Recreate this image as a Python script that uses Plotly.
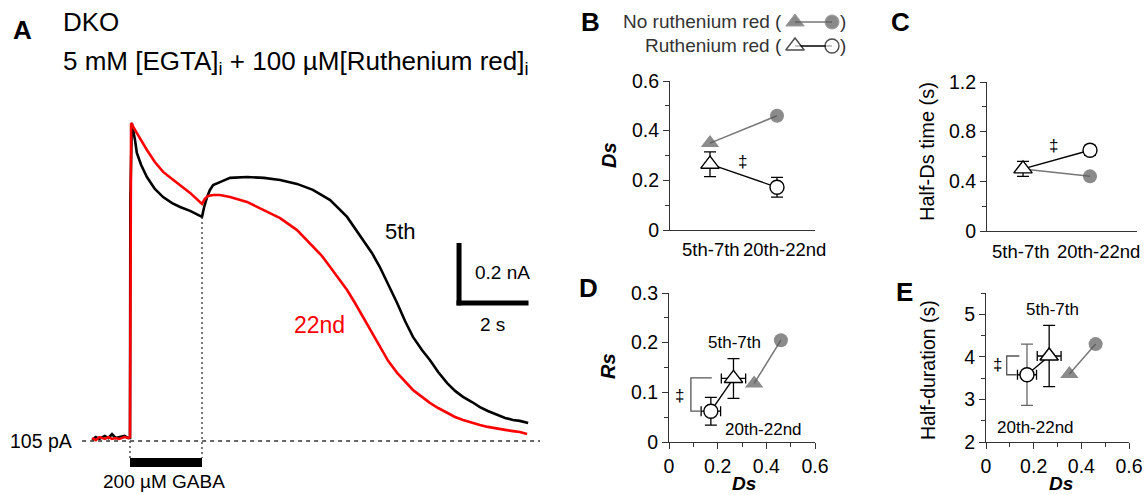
import plotly.graph_objects as go

W, H = 1148, 495
FONT = "Liberation Sans, Arial, Helvetica, sans-serif"
GRAY = "#5a5a5a"
GLINE = "#777777"

# ---------------- Panel A: current traces (time in s from GABA onset, current in nA above 105 pA baseline)
t_5th = [-1.05, -0.95, -0.85, -0.7, -0.6, -0.5, -0.4, -0.3, -0.15, -0.05, 0.0, 0.01, 0.05,
         0.14, 0.19, 0.31, 0.47, 0.69, 0.92, 1.17, 1.39, 1.67, 2.0,
         2.06, 2.14, 2.22, 2.31, 2.58, 2.78, 3.25, 3.72, 4.17, 4.64, 5.08, 5.56, 6.03, 6.47,
         6.72, 6.94, 7.17, 7.42, 7.64, 7.86, 8.11, 8.33, 8.56, 8.81, 9.03, 9.25, 9.5, 9.72,
         9.94, 10.19, 10.42, 10.64, 10.83, 11.06]
i_5th = [0.003, 0.013, 0.007, 0.017, 0.010, 0.023, 0.010, 0.013, 0.017, 0.010, 0.010, 0.80, 1.06,
         1.003, 0.96, 0.92, 0.88, 0.84, 0.813, 0.793, 0.78, 0.767, 0.747,
         0.78, 0.813, 0.837, 0.853, 0.867, 0.877, 0.88, 0.877, 0.87, 0.857, 0.837, 0.803, 0.747, 0.67,
         0.627, 0.58, 0.523, 0.46, 0.40, 0.347, 0.303, 0.27, 0.23, 0.193, 0.167, 0.147, 0.13, 0.113,
         0.10, 0.087, 0.077, 0.07, 0.067, 0.06]

t_22nd = [-1.05, -0.95, -0.85, -0.7, -0.6, -0.5, -0.4, -0.3, -0.15, -0.05, 0.0, 0.01, 0.03,
          0.11, 0.19, 0.33, 0.47, 0.69, 0.92, 1.17, 1.39, 1.67, 2.0,
          2.08, 2.17, 2.31, 2.5, 2.78, 3.25, 3.69, 4.17, 4.64, 5.08, 5.33, 5.56, 5.78, 6.03, 6.25,
          6.47, 6.72, 6.94, 7.17, 7.42, 7.64, 7.86, 8.11, 8.33, 8.56, 8.81, 9.03, 9.25, 9.5, 9.72,
          9.94, 10.19, 10.42, 10.64, 10.83, 11.03]
i_22nd = [0.010, 0.003, 0.013, 0.007, 0.013, 0.007, 0.010, 0.007, 0.013, 0.010, 0.013, 0.80, 1.06,
          1.043, 1.027, 0.997, 0.97, 0.93, 0.897, 0.873, 0.853, 0.827, 0.79,
          0.807, 0.817, 0.82, 0.82, 0.813, 0.797, 0.77, 0.743, 0.703, 0.647, 0.617, 0.58, 0.543, 0.503, 0.46,
          0.413, 0.363, 0.313, 0.267, 0.227, 0.197, 0.17, 0.147, 0.127, 0.11, 0.093, 0.08, 0.07, 0.06, 0.053,
          0.047, 0.043, 0.037, 0.033, 0.03, 0.023]

gaba_on, gaba_off = 0.0, 2.0          # s
scale_t, scale_i = 2.0, 0.2           # s, nA

# ---------------- Panels B-E
categories = ["5th-7th", "20th-22nd"]
ds_noRR = [0.35, 0.46]
ds_RR = [0.265, 0.172]
ds_RR_err = [0.05, 0.04]
halfds_noRR = [0.50, 0.44]
halfds_RR = [0.50, 0.65]
halfds_RR_err = [0.06, 0.04]
rs_noRR = [0.118, 0.205]
rs_RR = [0.128, 0.062]
rs_RR_err = [0.04, 0.028]
halfdur_noRR = [3.60, 4.30]
halfdur_RR = [4.02, 3.58]
halfdur_RR_err = [0.72, 0.72]

def px(x):
    return x / W

def py(y):
    return 1 - y / H

fig = go.Figure()

fig.add_trace(go.Scatter(x=t_5th, y=i_5th, mode="lines", line=dict(color="black", width=2.6),
                         xaxis="x", yaxis="y", hoverinfo="skip"))
fig.add_trace(go.Scatter(x=t_22nd, y=i_22nd, mode="lines", line=dict(color="#ff0000", width=2.6),
                         xaxis="x", yaxis="y", hoverinfo="skip"))

shapes = []
shapes.append(dict(type="line", xref="x", yref="y", x0=-1.33, x1=11.39, y0=0, y1=0,
                   line=dict(color="#333", width=1.3, dash="4px,4px")))
shapes.append(dict(type="line", xref="x", yref="y", x0=gaba_on, x1=gaba_on, y0=0, y1=-0.057,
                   line=dict(color="#333", width=1.3, dash="2px,3px")))
shapes.append(dict(type="line", xref="x", yref="y", x0=gaba_off, x1=gaba_off, y0=i_5th[t_5th.index(2.0)], y1=-0.057,
                   line=dict(color="#333", width=1.3, dash="2px,3px")))
shapes.append(dict(type="rect", xref="x", yref="y", x0=gaba_on, x1=gaba_off, y0=-0.057, y1=-0.087,
                   fillcolor="black", line=dict(width=0)))
sx, sy = 9.07, 0.46
shapes.append(dict(type="line", xref="x", yref="y", x0=sx + 0.07, x1=sx + 0.07, y0=sy - 0.008, y1=sy + scale_i,
                   line=dict(color="black", width=5)))
shapes.append(dict(type="line", xref="x", yref="y", x0=sx, x1=sx + scale_t, y0=sy, y1=sy,
                   line=dict(color="black", width=5)))

ann = []
def A(x, y, text, size=18, color="black", xanchor="center", yanchor="middle", xref="paper", yref="paper",
      bold=False, angle=0):
    ann.append(dict(x=x, y=y, xref=xref, yref=yref, text=("<b>%s</b>" % text) if bold else text,
                    showarrow=False, xanchor=xanchor, yanchor=yanchor, textangle=angle,
                    font=dict(family=FONT, size=size, color=color)))

A(9.53, 0.563, "0.2 nA", 19, xanchor="left", xref="x", yref="y")
A(10.06, 0.39, "2 s", 19, xref="x", yref="y")
A(7.5, 0.70, "5th", 22, xref="x", yref="y")
A(5.25, 0.387, "22nd", 23, color="#ff0000", xref="x", yref="y")
A(-1.55, 0.0, "105 pA", 19.5, xanchor="right", xref="x", yref="y")
A(0.95, -0.135, "200 µM GABA", 19, xref="x", yref="y")

A(px(22), py(30), "A", 26, bold=True)
A(px(61), py(22), "DKO", 26, xanchor="left")
A(px(61), py(62), "5 mM [EGTA]<sub>i</sub> + 100 µM[Ruthenium red]<sub>i</sub>", 26, xanchor="left")
A(px(590), py(22), "B", 26, bold=True)
A(px(900), py(22), "C", 26, bold=True)
A(px(589), py(288), "D", 26, bold=True)
A(px(904), py(292), "E", 26, bold=True)

A(px(784), py(21), "No ruthenium red (", 19, color="#333", xanchor="right")
A(px(784), py(45), "Ruthenium red (", 19, color="#333", xanchor="right")
A(px(838), py(21), ")", 19, color="#333", xanchor="left")
A(px(838), py(45), ")", 19, color="#333", xanchor="left")

A(px(609), py(155), "<i>Ds</i>", 20, bold=True, angle=-90)
A(px(927), py(152), "Half-Ds time (s)", 20, angle=-90)
A(px(608), py(366), "<i>Rs</i>", 20, bold=True, angle=-90)
A(px(928), py(370), "Half-duration (s)", 19.5, angle=-90)
A(px(744), py(483), "<i>Ds</i>", 19, bold=True)
A(px(1061), py(483), "<i>Ds</i>", 19, bold=True)

for cx, lab in zip([711, 784], categories):
    A(px(cx), py(249), lab, 18.5)
for cx, lab in zip([1021, 1098], categories):
    A(px(cx), py(251), lab, 18.5)

A(0.49, 0.274, "‡", 17, xref="x2", yref="y2")
A(0.45, 0.69, "‡", 17, xref="x3", yref="y3")
A(0.045, 0.093, "‡", 17, xref="x4", yref="y4")
A(0.05, 3.81, "‡", 17, xref="x5", yref="y5")
A(0.27, 0.20, "5th-7th", 17, xref="x4", yref="y4")
A(0.39, 0.026, "20th-22nd", 17, xref="x4", yref="y4")
A(0.28, 5.12, "5th-7th", 17, xref="x5", yref="y5")
A(0.206, 2.35, "20th-22nd", 17, xref="x5", yref="y5")

shapes.append(dict(type="path", xref="x4", yref="y4", path="M 0.176 0.129 L 0.09 0.129 L 0.09 0.062 L 0.128 0.062",
                   line=dict(color="#555", width=1.3)))
shapes.append(dict(type="path", xref="x5", yref="y5", path="M 0.14 4.02 L 0.087 4.02 L 0.087 3.58 L 0.129 3.58",
                   line=dict(color="#555", width=1.3)))

cat_x = [0, 1]

def pair(xa, ya, xs, ys_noRR, ys_RR, yerr, xerr=None, yerr_colors=("black", "black")):
    fig.add_trace(go.Scatter(x=xs[0], y=ys_noRR, mode="lines", line=dict(color=GLINE, width=1.5),
                             xaxis=xa, yaxis=ya, hoverinfo="skip"))
    fig.add_trace(go.Scatter(x=xs[0], y=ys_noRR, mode="markers",
                             marker=dict(symbol=["triangle-up", "circle"], size=[16, 14], color=GRAY,
                                         line=dict(width=0)),
                             xaxis=xa, yaxis=ya, hoverinfo="skip"))
    fig.add_trace(go.Scatter(x=xs[1], y=ys_RR, mode="lines", line=dict(color="black", width=1.4),
                             xaxis=xa, yaxis=ya, hoverinfo="skip"))
    syms = ["triangle-up", "circle"]
    sizes = [16, 14]
    for k in range(2):
        kw = {}
        if xerr is not None:
            kw["error_x"] = dict(type="data", array=[xerr[k]], color="black", thickness=1.3, width=5)
        fig.add_trace(go.Scatter(x=[xs[1][k]], y=[ys_RR[k]], mode="markers",
                                 marker=dict(symbol=syms[k], size=sizes[k], color="white",
                                             line=dict(color="black", width=1.4)),
                                 error_y=dict(type="data", array=[yerr[k]], color=yerr_colors[k],
                                              thickness=1.3, width=6),
                                 xaxis=xa, yaxis=ya, hoverinfo="skip", **kw))

pair("x2", "y2", (cat_x, cat_x), ds_noRR, ds_RR, ds_RR_err)
pair("x3", "y3", (cat_x, cat_x), halfds_noRR, halfds_RR, halfds_RR_err)
pair("x4", "y4", (ds_noRR, ds_RR), rs_noRR, rs_RR, rs_RR_err, xerr=ds_RR_err)
pair("x5", "y5", (ds_noRR, ds_RR), halfdur_noRR, halfdur_RR, halfdur_RR_err, xerr=ds_RR_err,
     yerr_colors=("black", "#666666"))

fig.add_trace(go.Scatter(x=[795, 832], y=[22, 22], mode="lines+markers", line=dict(color=GLINE, width=1.5),
                         marker=dict(symbol=["triangle-up", "circle"], size=[16, 14], color=GRAY),
                         xaxis="x6", yaxis="y6", hoverinfo="skip"))
fig.add_trace(go.Scatter(x=[795, 832], y=[46, 46], mode="lines+markers", line=dict(color="black", width=1.4),
                         marker=dict(symbol=["triangle-up", "circle"], size=[16, 14], color="white",
                                     line=dict(color="black", width=1.4)),
                         xaxis="x6", yaxis="y6", hoverinfo="skip"))

tickfont = dict(family=FONT, size=19.5, color="black")
axline = dict(showline=True, linecolor="#333", linewidth=1.2, showgrid=False, zeroline=False,
              tickfont=tickfont, ticks="outside", tickcolor="#333", tickwidth=1.2, ticklen=6,
              automargin=False, tickangle=0)

def yax(domain, rng, dtick, minor, anchor):
    return dict(domain=domain, range=rng, dtick=dtick, tick0=rng[0], anchor=anchor,
                minor=dict(dtick=minor, tick0=rng[0], ticks="outside", ticklen=4, tickcolor="#333", tickwidth=1.2),
                **axline)

catax = {**axline, "ticks": "", "showticklabels": False}

layout = dict(
    width=W, height=H, margin=dict(l=0, r=0, t=0, b=0, autoexpand=False), showlegend=False,
    paper_bgcolor="white", plot_bgcolor="rgba(0,0,0,0)",
    xaxis=dict(domain=[0, 0.5], range=[-130 / 36, 444 / 36], visible=False, anchor="y", automargin=False),
    yaxis=dict(domain=[0, 1], range=[-54 / 300, 441 / 300], visible=False, anchor="x", automargin=False),
    xaxis2=dict(domain=[px(670), px(815)], range=[-40 / 67, 105 / 67], anchor="y2", **catax),
    yaxis2=yax([py(230), py(81)], [0, 0.6], 0.2, 0.1, "x2"),
    xaxis3=dict(domain=[px(987), px(1137)], range=[-36 / 67, 114 / 67], anchor="y3", **catax),
    yaxis3=yax([py(231), py(82)], [0, 1.2], 0.4, 0.2, "x3"),
    xaxis4=dict(domain=[px(669), px(815)], range=[0, 0.6], dtick=0.2, tick0=0, anchor="y4",
                minor=dict(dtick=0.1, tick0=0, ticks="outside", ticklen=4, tickcolor="#333", tickwidth=1.2),
                **axline),
    yaxis4=yax([py(442), py(293)], [0, 0.3], 0.1, 0.05, "x4"),
    xaxis5=dict(domain=[px(986), px(1129)], range=[0, 0.6], dtick=0.2, tick0=0, anchor="y5",
                minor=dict(dtick=0.1, tick0=0, ticks="outside", ticklen=4, tickcolor="#333", tickwidth=1.2),
                **axline),
    yaxis5=yax([py(442), py(293)], [2, 5.5], 1, 0.5, "x5"),
    xaxis6=dict(domain=[0, 1], range=[0, W], visible=False, anchor="y6", automargin=False),
    yaxis6=dict(domain=[0, 1], range=[H, 0], visible=False, anchor="x6", automargin=False),
    shapes=shapes, annotations=ann,
)
fig.update_layout(**layout)
fig.write_html("out.html", config={"displayModeBar": False},
               post_script="document.body.style.margin='0';document.body.style.overflow='hidden';")
